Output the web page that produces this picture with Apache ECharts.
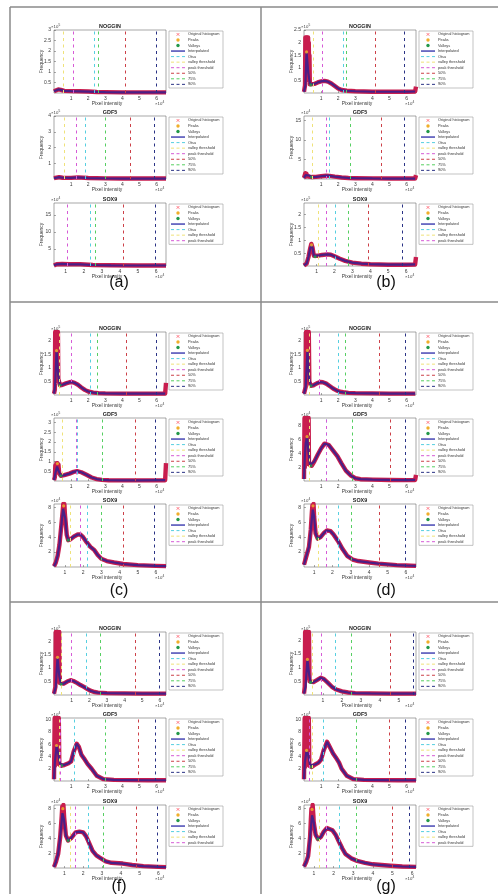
<!DOCTYPE html>
<html>
<head>
<meta charset="utf-8">
<script src="https://cdn.jsdelivr.net/npm/echarts@6/dist/echarts.min.js"></script>
<style>
html,body{margin:0;padding:0;background:#fff;}
#chart{width:498px;height:894px;}
</style>
</head>
<body>
<div id="chart"></div>
<script>
// ---- data ---------------------------------------------------------------
const panelNames = ['(a)', '(b)', '(c)', '(d)', '(f)', '(g)'];
const geneNames = ['NOGGIN', 'GDF5', 'SOX9'];
const legendNames = ['Original histogram', 'Peaks', 'Valleys', 'Interpolated', 'Otsu',
  'valley threshold', 'peak threshold', '50%', '75%', '90%'];
const xTickValues = [1, 2, 3, 4, 5, 6];

// per panel: [NOGGIN, GDF5, SOX9]
const yMax = [[3, 4, 18.5], [2.5, 16.2, 2.45], [2.33, 3.24, 8.45], [2.33, 9.1, 8.45], [2.34, 10.3, 8.5], [2.3, 10.3, 8.5]];
const yStep = [[0.5, 1, 5], [0.5, 5, 0.5], [0.5, 0.5, 2], [0.5, 2, 2], [0.5, 2, 2], [0.5, 2, 2]];
const yExp = [[5, 5, 4], [5, 4, 5], [5, 5, 4], [5, 4, 4], [5, 4, 4], [5, 4, 4]];
const xMin = [[0, 0, 0.35], [0, 0, 0.3], [0, 0, 0.4], [0, 0, 0.45], [0, 0, 0.45], [0, 0, 0.49]];
const xMax = [[6.55, 6.55, 6.55], [6.55, 6.55, 6.55], [6.55, 6.55, 6.55], [6.55, 6.55, 6.55], [6.35, 6.55, 6.4], [5.9, 6.55, 6.2]];

// thresholds: [Otsu, valley, peak, 50%, 75%, 90%]
const thresholds = [
  [[2.37, 0.53, 1.14, 4.14, 2.56, 5.98], [1.83, 0.6, 1.3, 4.45, 3.0, 5.87], [2.37, null, 1.1, 4.2, 2.65, 5.93]],
  [[2.3, 0.54, 1.09, 4.14, 2.45, 5.85], [1.46, 0.49, 1.29, 4.5, 2.73, 5.85], [2.07, 1.09, 1.52, 3.9, 2.75, 5.81]],
  [[2.1, 0.3, 1.0, 4.2, 2.55, 5.97], [1.36, 0.5, 1.32, 4.78, 2.8, 5.9], [2.25, 1.28, 1.83, 4.22, 2.99, 5.88]],
  [[1.98, 0.3, 0.91, 4.43, 2.4, 5.95], [1.33, 0.3, 1.31, 5.02, 2.8, 5.95], [2.3, 1.24, 1.67, 4.57, 3.05, 5.96]],
  [[1.82, 0.4, 1.0, 4.58, 2.62, 5.97], [1.18, 0.3, 0.35, 4.9, 3.0, 5.9], [2.26, 1.29, 1.6, 4.8, 3.06, 5.93]],
  [[1.63, 0.44, 0.9, 4.56, 2.47, 5.75], [1.15, 0.47, 0.3, 5.0, 3.05, 5.9], [2.28, 1.29, 1.63, 5.0, 3.13, 5.88]]
];

// interpolated histogram curves, [intensity (x1e4), frequency]
const curvesA = [
  [[0, 0.08], [0.1, 0.15], [0.25, 0.17], [0.4, 0.15], [0.6, 0.1], [1, 0.09], [1.5, 0.08], [2, 0.07], [2.5, 0.05], [3, 0.04], [4, 0.03], [5, 0.03], [6.55, 0.03]],
  [[0, 0.05], [0.1, 0.15], [0.3, 0.12], [0.5, 0.08], [1, 0.07], [1.4, 0.1], [2, 0.06], [3, 0.04], [4, 0.03], [6.55, 0.03]],
  [[0.35, 0.2], [0.5, 0.5], [0.8, 0.6], [1.2, 0.5], [1.8, 0.5], [2.5, 0.3], [3.5, 0.2], [5, 0.15], [6.55, 0.15]]
];
const curvesB = [
  [[0, 0.05], [0.08, 0.3], [0.15, 1.63], [0.25, 0.8], [0.35, 0.35], [0.45, 0.32], [0.6, 0.36], [0.8, 0.42], [1.0, 0.46], [1.2, 0.48], [1.4, 0.45], [1.6, 0.38], [1.8, 0.28], [2.0, 0.18], [2.2, 0.12], [2.5, 0.09], [3, 0.07], [3.5, 0.06], [4, 0.05], [5, 0.05], [6, 0.05], [6.5, 0.06]],
  [[0, 0.3], [0.1, 1.0], [0.2, 1.1], [0.3, 0.9], [0.45, 0.5], [0.7, 0.55], [1.0, 0.7], [1.3, 0.85], [1.5, 0.8], [1.8, 0.6], [2.2, 0.4], [2.6, 0.25], [3, 0.2], [4, 0.15], [5, 0.12], [6.5, 0.12]],
  [[0.3, 0.02], [0.45, 0.1], [0.55, 0.35], [0.65, 0.7], [0.72, 0.82], [0.78, 0.7], [0.85, 0.4], [0.95, 0.36], [1.1, 0.4], [1.3, 0.43], [1.6, 0.45], [1.8, 0.44], [2.0, 0.38], [2.3, 0.28], [2.6, 0.2], [3.0, 0.13], [3.5, 0.09], [4, 0.07], [5, 0.05], [6, 0.05], [6.5, 0.06]]
];
const curvesC = [
  [[0, 0.05], [0.06, 0.3], [0.15, 1.64], [0.25, 0.7], [0.35, 0.36], [0.5, 0.38], [0.7, 0.43], [0.9, 0.47], [1.05, 0.48], [1.2, 0.45], [1.4, 0.38], [1.6, 0.28], [1.8, 0.19], [2.0, 0.13], [2.3, 0.09], [2.6, 0.07], [3, 0.06], [4, 0.05], [5, 0.05], [6, 0.05], [6.5, 0.05]],
  [[0, 0.05], [0.08, 0.4], [0.18, 0.74], [0.28, 0.5], [0.4, 0.27], [0.6, 0.3], [0.9, 0.38], [1.15, 0.47], [1.35, 0.51], [1.6, 0.45], [1.9, 0.32], [2.2, 0.18], [2.5, 0.1], [2.8, 0.06], [3.2, 0.04], [4, 0.03], [5, 0.03], [6.5, 0.04]],
  [[0.4, 0.1], [0.5, 0.6], [0.6, 1.5], [0.7, 3.0], [0.8, 5.5], [0.9, 7.8], [0.95, 7.9], [1.02, 6.5], [1.1, 4.3], [1.18, 3.6], [1.3, 3.7], [1.5, 4.1], [1.7, 4.35], [1.85, 4.35], [2.0, 4.0], [2.2, 3.3], [2.4, 2.7], [2.6, 2.3], [2.8, 1.6], [3.0, 1.1], [3.3, 0.8], [3.7, 0.6], [4.2, 0.4], [5, 0.25], [6, 0.15], [6.55, 0.12]]
];
const curvesD = [
  [[0, 0.05], [0.1, 0.3], [0.2, 1.65], [0.3, 0.6], [0.4, 0.34], [0.55, 0.36], [0.75, 0.43], [0.95, 0.48], [1.1, 0.47], [1.3, 0.42], [1.5, 0.33], [1.7, 0.24], [1.9, 0.17], [2.1, 0.12], [2.3, 0.1], [2.6, 0.08], [3, 0.07], [4, 0.06], [5, 0.05], [6, 0.05], [6.5, 0.05]],
  [[0, 0.3], [0.05, 3.6], [0.1, 5.5], [0.18, 6.4], [0.25, 4.5], [0.35, 2.3], [0.45, 2.2], [0.6, 2.8], [0.8, 3.8], [1.0, 4.7], [1.2, 5.4], [1.31, 5.5], [1.45, 5.2], [1.7, 4.4], [1.95, 3.6], [2.2, 2.5], [2.45, 1.5], [2.75, 0.77], [3.0, 0.4], [3.3, 0.26], [4, 0.2], [5, 0.15], [6, 0.12], [6.5, 0.15]],
  [[0.45, 0.3], [0.56, 1.3], [0.72, 2.7], [0.82, 5], [0.93, 7.7], [1.0, 6.8], [1.08, 4.5], [1.2, 3.8], [1.35, 4.0], [1.55, 4.6], [1.7, 4.9], [1.9, 4.8], [2.05, 4.4], [2.3, 3.5], [2.55, 2.4], [2.8, 1.5], [3.1, 1.0], [3.4, 0.8], [4, 0.6], [4.5, 0.45], [5, 0.35], [5.5, 0.25], [6, 0.2], [6.55, 0.15]]
];
const curvesF = [
  [[0, 0.05], [0.1, 0.3], [0.2, 1.4], [0.3, 0.7], [0.4, 0.4], [0.55, 0.42], [0.75, 0.5], [0.94, 0.55], [1.1, 0.52], [1.3, 0.45], [1.5, 0.37], [1.7, 0.3], [1.9, 0.22], [2.1, 0.15], [2.3, 0.11], [2.5, 0.09], [3, 0.07], [4, 0.06], [5, 0.05], [6.35, 0.05]],
  [[0, 0.3], [0.05, 3], [0.15, 5.8], [0.25, 4.5], [0.35, 2.8], [0.45, 2.5], [0.6, 2.6], [0.85, 2.9], [1.0, 3.2], [1.15, 4.8], [1.33, 6.1], [1.45, 5.6], [1.6, 4.3], [1.8, 3.5], [1.96, 2.8], [2.2, 2.0], [2.5, 0.85], [2.9, 0.3], [3.5, 0.18], [4.5, 0.15], [5.5, 0.12], [6.55, 0.12]],
  [[0.45, 0.14], [0.55, 0.8], [0.67, 1.9], [0.78, 4.2], [0.9, 7.4], [0.98, 6.5], [1.08, 4.4], [1.2, 3.7], [1.35, 4.0], [1.6, 4.8], [1.8, 4.9], [2.0, 4.8], [2.15, 4.3], [2.26, 3.7], [2.5, 2.3], [2.7, 1.7], [2.88, 1.4], [3.2, 0.9], [3.5, 0.7], [4.1, 0.6], [4.6, 0.4], [5.2, 0.25], [6, 0.15], [6.4, 0.12]]
];
const curvesG = [
  [[0, 0.05], [0.08, 0.3], [0.18, 1.3], [0.28, 0.7], [0.35, 0.46], [0.5, 0.47], [0.7, 0.55], [0.88, 0.63], [1.05, 0.58], [1.25, 0.45], [1.47, 0.3], [1.7, 0.2], [2.0, 0.13], [2.33, 0.09], [2.7, 0.07], [3.5, 0.06], [4.5, 0.05], [5.9, 0.05]],
  [[0, 0.3], [0.05, 3], [0.15, 5.0], [0.25, 4.2], [0.35, 2.6], [0.45, 2.3], [0.65, 2.7], [0.85, 3.0], [1.0, 3.5], [1.15, 5.0], [1.35, 6.4], [1.5, 5.6], [1.7, 4.5], [1.85, 3.9], [2.05, 3.0], [2.2, 2.0], [2.5, 0.85], [2.9, 0.3], [3.5, 0.18], [4.5, 0.15], [5.5, 0.12], [6.55, 0.12]],
  [[0.49, 0.2], [0.6, 0.8], [0.7, 1.6], [0.8, 4.2], [0.9, 7.1], [0.98, 6.3], [1.08, 4.5], [1.2, 3.9], [1.35, 4.2], [1.5, 4.9], [1.66, 5.4], [1.94, 5.1], [2.1, 4.5], [2.28, 3.5], [2.45, 2.6], [2.6, 1.9], [2.9, 1.3], [3.2, 0.96], [3.6, 0.7], [4.0, 0.5], [4.9, 0.3], [5.5, 0.2], [6.2, 0.15]]
];
const curves = [curvesA, curvesB, curvesC, curvesD, curvesF, curvesG];

// raw histogram bins in the noisy low-intensity region
const spikesA = [[], [], []];
const spikesB = [
  [[0.06, 0.3], [0.08, 2.2], [0.1, 0.7], [0.12, 2.15], [0.14, 1.1], [0.16, 2.2], [0.18, 0.9], [0.2, 2.1], [0.22, 1.0], [0.24, 2.2], [0.26, 0.6], [0.28, 2.0], [0.3, 0.5], [0.32, 1.5], [0.34, 0.35]],
  [[0.05, 0.4], [0.08, 1.5], [0.11, 0.6], [0.14, 1.4], [0.17, 0.8], [0.2, 1.3], [0.23, 0.7], [0.26, 1.1], [0.29, 0.6]],
  [[0.68, 0.78], [0.71, 0.86], [0.74, 0.8]]
];
const spikesC = [
  [[0.05, 0.2], [0.07, 2.33], [0.09, 0.5], [0.11, 2.33], [0.13, 1.0], [0.15, 2.33], [0.17, 0.8], [0.19, 2.33], [0.21, 0.7], [0.23, 2.33], [0.25, 0.6]],
  [[0.05, 0.2], [0.08, 0.8], [0.11, 0.45], [0.14, 0.9], [0.17, 0.55], [0.2, 0.92], [0.23, 0.6], [0.26, 0.85], [0.3, 0.4]],
  [[0.88, 7.6], [0.91, 8.45], [0.94, 7.9], [0.97, 8.45], [1.0, 7.0]]
];
const spikesD = [
  [[0.1, 0.3], [0.12, 2.33], [0.14, 0.8], [0.16, 2.33], [0.18, 1.0], [0.2, 2.33], [0.22, 0.9], [0.24, 2.33], [0.26, 0.7], [0.28, 2.33], [0.31, 0.5]],
  [[0.01, 0.5], [0.03, 9.1], [0.05, 2.0], [0.07, 9.1], [0.09, 3.0], [0.11, 9.1], [0.13, 2.5], [0.15, 9.1], [0.17, 4.0], [0.19, 9.1], [0.21, 3.5], [0.23, 9.1], [0.25, 2.8], [0.27, 9.1], [0.29, 2.4]],
  [[0.88, 7.4], [0.91, 8.3], [0.94, 7.7], [0.97, 8.45], [1.0, 6.8]]
];
const spikesF = [
  [[0.08, 0.3], [0.1, 2.34], [0.12, 0.6], [0.14, 2.34], [0.16, 0.9], [0.18, 2.34], [0.2, 1.0], [0.22, 2.34], [0.24, 0.8], [0.26, 2.34], [0.28, 0.7], [0.3, 2.34], [0.33, 0.45]],
  [[0.02, 0.5], [0.04, 10.3], [0.06, 2.5], [0.08, 10.3], [0.1, 3.5], [0.12, 10.3], [0.14, 4.5], [0.16, 10.3], [0.18, 4.0], [0.2, 10.3], [0.22, 3.5], [0.24, 10.3], [0.26, 3.0], [0.28, 10.3], [0.31, 2.7]],
  [[0.86, 7.0], [0.89, 8.3], [0.92, 7.6], [0.95, 8.5], [0.99, 6.8]]
];
const spikesG = [
  [[0.04, 0.3], [0.06, 2.3], [0.08, 0.6], [0.1, 2.3], [0.12, 0.9], [0.14, 2.3], [0.16, 1.0], [0.18, 2.3], [0.2, 0.9], [0.22, 2.3], [0.24, 0.7], [0.26, 2.3], [0.29, 0.5]],
  [[0.02, 0.5], [0.04, 10.3], [0.06, 2.3], [0.08, 10.3], [0.1, 3.2], [0.12, 10.3], [0.14, 4.0], [0.16, 10.3], [0.18, 3.8], [0.2, 10.3], [0.22, 3.4], [0.24, 10.3], [0.26, 2.9], [0.28, 10.3], [0.31, 2.5]],
  [[0.84, 6.5], [0.87, 8.0], [0.9, 7.3], [0.93, 8.5], [0.97, 7.0]]
];
const spikes = [spikesA, spikesB, spikesC, spikesD, spikesF, spikesG];

// saturated top bin at the right end of the intensity range
const edgeBins = [
  [null, null, null],
  [[6.55, 0.25], [6.55, 1.0], [6.55, 0.35]],
  [[6.55, 0.45], [6.55, 0.92], null],
  [null, [6.55, 0.9], null],
  [null, null, null],
  [null, null, null]
];

const peaks = [
  [[], [], []],
  [[[0.15, 1.63]], [], [[0.72, 0.82]]],
  [[[0.15, 1.64]], [[0.2, 0.9]], [[0.93, 8.2]]],
  [[[0.2, 1.65]], [[0.18, 6.4]], [[0.94, 8.2]]],
  [[[0.2, 1.4]], [[0.15, 5.8]], [[0.92, 8.0]]],
  [[[0.18, 1.3]], [[0.15, 5.0]], [[0.9, 7.9]]]
];
const valleys = [
  [[], [], []],
  [[[0.4, 0.32]], [[0.45, 0.5]], [[0.92, 0.36]]],
  [[[0.35, 0.36]], [[0.4, 0.27]], [[1.18, 3.6]]],
  [[[0.4, 0.34]], [[0.4, 2.2]], [[1.2, 3.8]]],
  [[[0.4, 0.4]], [[0.45, 2.5]], [[1.2, 3.7]]],
  [[[0.35, 0.46]], [[0.45, 2.3]], [[1.2, 3.9]]]
];

// ---- layout & styles ----------------------------------------------------
const FONT = '"Liberation Sans", Arial, sans-serif';
const colLeft = [54, 304];
const plotW = 112, plotH = 63;
const rowTops = [[30, 116, 203], [332, 418, 504], [632, 718, 805]];
const labelY = [283, 591, 887];
const labelX = [119, 386];
const thrColors = ['#56cfe0', '#efe27a', '#d65ad6', '#cc4048', '#56cf62', '#2a3285'];
const rawColor = '#c81d4e';
const interpColor = '#4a1f86';
const peakColor = '#f0ae2a';
const valleyColor = '#23994a';
const textColor = '#3a3a3a';

function yTicks(max, step) {
  const out = [];
  for (let k = 1; k * step <= max + 1e-9; k++) out.push(+(k * step).toFixed(4));
  return out;
}
function fmt(v) { return String(+v.toFixed(2)); }

function txt(x, y, text, size, opts) {
  opts = opts || {};
  return {
    type: 'text', x: x, y: y, rotation: opts.rotation || 0, silent: true, z: 10,
    style: {
      text: text, fill: opts.color || textColor,
      font: (opts.bold ? 'bold ' : '') + size + 'px ' + FONT,
      textAlign: opts.align || 'left', align: opts.align || 'left',
      textVerticalAlign: opts.valign || 'middle', verticalAlign: opts.valign || 'middle'
    }
  };
}

function legendGroup(x, y, nItems) {
  const rowH = 5.55;
  const children = [{
    type: 'rect', shape: { x: 0, y: 0, width: 54, height: nItems * rowH + 1.5 },
    style: { fill: '#fff', stroke: '#9a9a9a', lineWidth: 0.6 }
  }];
  for (let i = 0; i < nItems; i++) {
    const cy = 3.4 + i * rowH;
    if (i === 0) {
      children.push({ type: 'line', shape: { x1: 7.6, y1: cy - 1.4, x2: 10.4, y2: cy + 1.4 }, style: { stroke: '#ff4b5c', lineWidth: 0.7 } });
      children.push({ type: 'line', shape: { x1: 7.6, y1: cy + 1.4, x2: 10.4, y2: cy - 1.4 }, style: { stroke: '#ff4b5c', lineWidth: 0.7 } });
    } else if (i === 1 || i === 2) {
      children.push({ type: 'circle', shape: { cx: 9, cy: cy, r: 1.7 }, style: { fill: i === 1 ? peakColor : valleyColor } });
    } else if (i === 3) {
      children.push({ type: 'line', shape: { x1: 2, y1: cy, x2: 16, y2: cy }, style: { stroke: '#2a2aa8', lineWidth: 1.3 } });
    } else {
      children.push({ type: 'line', shape: { x1: 2, y1: cy, x2: 16, y2: cy }, style: { stroke: thrColors[i - 4], lineWidth: 1, lineDash: [3, 2.5] } });
    }
    children.push(txt(19, cy, legendNames[i], 3.9, { color: '#333' }));
  }
  return { type: 'group', x: x, y: y, silent: true, children: children };
}

const grids = [], xAxes = [], yAxes = [], series = [], graphics = [];

for (let p = 0; p < 6; p++) {
  const row = Math.floor(p / 2), col = p % 2;
  for (let g = 0; g < 3; g++) {
    const idx = p * 3 + g;
    const left = colLeft[col], top = rowTops[row][g];
    const x0 = xMin[p][g], x1 = xMax[p][g], y1 = yMax[p][g];
    const xt = xTickValues.filter(v => v >= x0 && v <= x1);
    const yt = yTicks(y1, yStep[p][g]);

    grids.push({ left: left, top: top, width: plotW, height: plotH, show: true,
      backgroundColor: '#fff', borderColor: '#6b6b6b', borderWidth: 0.6 });
    xAxes.push({
      gridIndex: idx, type: 'value', min: x0, max: x1,
      axisLine: { show: false }, splitLine: { show: false },
      axisTick: { show: true, inside: true, length: 2, customValues: xt, lineStyle: { color: '#555', width: 0.5 } },
      axisLabel: { customValues: xt, formatter: fmt, fontSize: 5, margin: 3, color: textColor, fontFamily: FONT }
    });
    yAxes.push({
      gridIndex: idx, type: 'value', min: 0, max: y1,
      axisLine: { show: false }, splitLine: { show: false },
      axisTick: { show: true, inside: true, length: 2, customValues: yt, lineStyle: { color: '#555', width: 0.5 } },
      axisLabel: { customValues: yt, formatter: fmt, fontSize: 5, margin: 3, color: textColor, fontFamily: FONT }
    });

    const curve = curves[p][g];
    const spike = spikes[p][g];
    let raw = curve.slice();
    if (spike.length) {
      const s0 = spike[0][0], s1 = spike[spike.length - 1][0];
      raw = curve.filter(pt => pt[0] < s0 || pt[0] > s1).concat(spike).sort((a, b) => a[0] - b[0]);
    }
    if (edgeBins[p][g]) raw = raw.concat([edgeBins[p][g]]);

    // threshold lines
    const thr = thresholds[p][g];
    const markData = [];
    thr.forEach((v, k) => {
      if (v !== null) markData.push({ xAxis: v, lineStyle: { color: thrColors[k], type: [3, 3.5], width: 1 } });
    });
    series.push({
      type: 'line', name: 'thresholds', xAxisIndex: idx, yAxisIndex: idx, z: 1,
      data: [[x0, 0]], showSymbol: false, lineStyle: { width: 0, opacity: 0 }, silent: true, animation: false,
      markLine: { silent: true, symbol: ['none', 'none'], label: { show: false }, animation: false, data: markData }
    });
    series.push({
      type: 'line', name: 'Original histogram', xAxisIndex: idx, yAxisIndex: idx, z: 2,
      data: raw, showSymbol: false, silent: true, animation: false,
      lineStyle: { color: rawColor, width: 4.4, join: 'round' }
    });
    series.push({
      type: 'line', name: 'Interpolated', xAxisIndex: idx, yAxisIndex: idx, z: 3,
      data: curve, showSymbol: false, silent: true, animation: false,
      lineStyle: { color: interpColor, width: 2.2 }
    });
    series.push({
      type: 'scatter', name: 'Peaks', xAxisIndex: idx, yAxisIndex: idx, z: 4,
      data: peaks[p][g], symbolSize: 3.2, silent: true, animation: false,
      itemStyle: { color: peakColor, opacity: 0.85 }
    });
    series.push({
      type: 'scatter', name: 'Valleys', xAxisIndex: idx, yAxisIndex: idx, z: 4,
      data: valleys[p][g], symbolSize: 3.2, silent: true, animation: false,
      itemStyle: { color: valleyColor, opacity: 0.85 }
    });

    // titles, axis names and exponents
    graphics.push(txt(left + plotW / 2, top - 3.6, geneNames[g], 5.4, { bold: true, align: 'center', color: '#222' }));
    graphics.push(txt(left + plotW / 2 - 3, top + plotH + 10.5, 'Pixel intensity', 5, { align: 'center' }));
    graphics.push(txt(left - 12.5, top + plotH / 2, 'Frequency', 5, { align: 'center', rotation: Math.PI / 2 }));
    graphics.push(txt(left - 3, top - 3, '\u00d710', 4.3, {}));
    graphics.push(txt(left + 4.6, top - 4.6, String(yExp[p][g]), 3.2, {}));
    graphics.push(txt(left + plotW - 11, top + plotH + 10.5, '\u00d710', 4.3, {}));
    graphics.push(txt(left + plotW - 3.4, top + plotH + 8.9, '4', 3.2, {}));

    graphics.push(legendGroup(left + plotW + 3, top + 1, g === 2 ? 7 : 10));
  }
  graphics.push(txt(labelX[col], labelY[row], panelNames[p], 16, { align: 'center', color: '#111' }));
}

// table frame around the panels
const frameColor = '#8a8a8a';
[[10, 7, 498, 7], [10, 7, 10, 894], [261, 7, 261, 894], [10, 302, 498, 302], [10, 602, 498, 602]].forEach(l => {
  graphics.push({ type: 'line', silent: true, shape: { x1: l[0], y1: l[1], x2: l[2], y2: l[3] }, style: { stroke: frameColor, lineWidth: 1.5 } });
});

const chart = echarts.init(document.getElementById('chart'), null, { renderer: 'canvas', width: 498, height: 894 });
chart.setOption({
  animation: false,
  backgroundColor: '#fff',
  grid: grids,
  xAxis: xAxes,
  yAxis: yAxes,
  series: series,
  graphic: { elements: graphics }
});
</script>
</body>
</html>
